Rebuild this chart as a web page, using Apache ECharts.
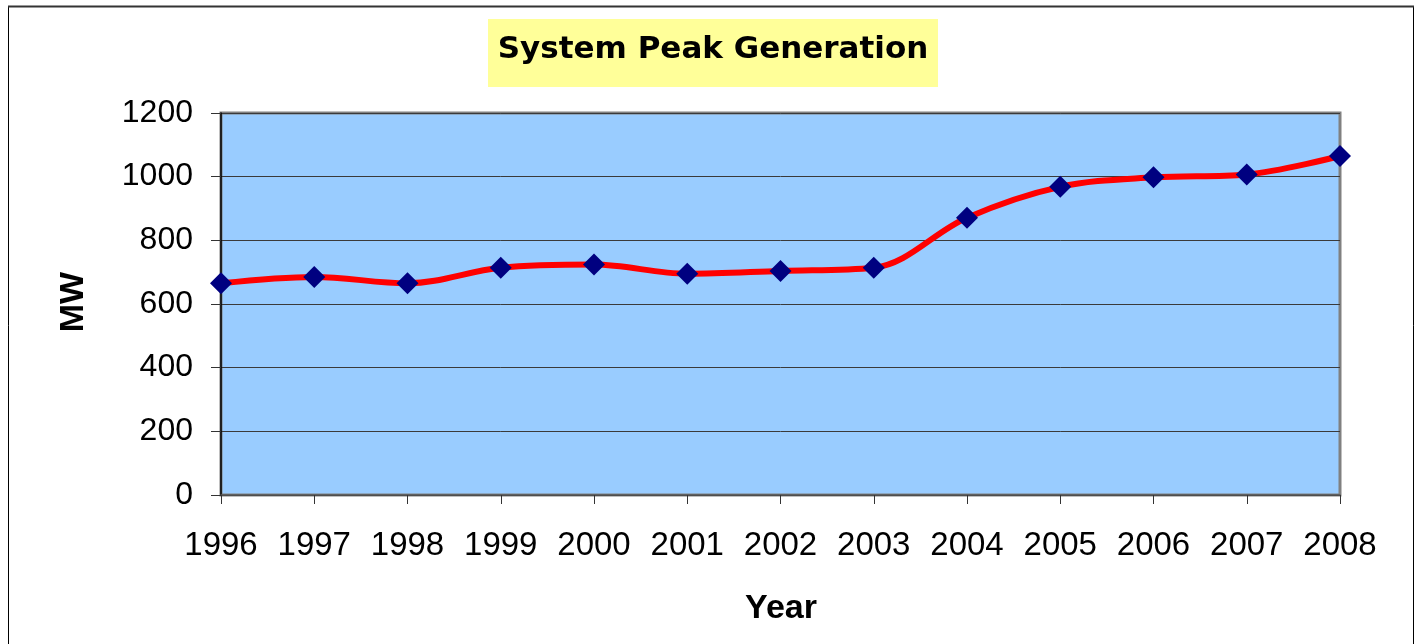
<!DOCTYPE html>
<html>
<head>
<meta charset="utf-8">
<script src="https://cdn.jsdelivr.net/npm/echarts@6/dist/echarts.min.js"></script>
<style>
html,body{margin:0;padding:0;background:#fff;}
#chart{width:1416px;height:644px;}
</style>
</head>
<body>
<div id="chart"></div>
<script>
const titleText = 'System Peak Generation';
const xAxisTitle = 'Year';
const yAxisTitle = 'MW';
const years = ['1996','1997','1998','1999','2000','2001','2002','2003','2004','2005','2006','2007','2008'];
const peakMW = [665, 685, 665, 714, 724, 695, 704, 714, 871, 968, 998, 1007, 1065];
const yMin = 0, yMax = 1200, yStep = 200;

const chart = echarts.init(document.getElementById('chart'), null, {renderer: 'canvas'});
chart.setOption({
  animation: false,
  backgroundColor: '#ffffff',
  grid: {
    left: 221, right: 76, top: 113, bottom: 149,
    show: true,
    backgroundColor: '#99CCFF',
    borderColor: '#808080',
    borderWidth: 3
  },
  xAxis: {
    type: 'category',
    data: years,
    boundaryGap: false,
    axisLine: {show: true, lineStyle: {color: '#555555', width: 1.5}},
    axisTick: {show: true, length: 9, alignWithLabel: true, interval: 0, lineStyle: {color: '#333333', width: 1}},
    axisLabel: {interval: 0, margin: 34, fontFamily: 'Liberation Sans', fontSize: 33, color: '#000000'},
    splitLine: {show: false}
  },
  yAxis: {
    type: 'value',
    min: yMin, max: yMax, interval: yStep,
    axisLine: {show: true, lineStyle: {color: '#000000', width: 1.5}},
    axisTick: {show: true, length: 10, lineStyle: {color: '#333333', width: 1}},
    axisLabel: {margin: 28, fontFamily: 'Liberation Sans', fontSize: 32, color: '#000000', formatter: function (v) { return String(v); }},
    splitLine: {show: true, lineStyle: {color: '#3a3a3a', width: 1}}
  },
  graphic: [
    {type: 'rect', shape: {x: 8.5, y: 6.5, width: 1405, height: 700}, style: {fill: 'none', stroke: '#000000', lineWidth: 1}, z: 0},
    {type: 'line', shape: {x1: 8, y1: 6.5, x2: 1414, y2: 6.5}, style: {stroke: '#333333', lineWidth: 2}, z: 0},
    {type: 'rect', shape: {x: 488, y: 19, width: 450, height: 68}, style: {fill: '#FFFF99'}, z: 1},
    {type: 'text', x: 713, y: 50, z: 2, style: {text: titleText, fontFamily: 'DejaVu Sans', fontWeight: 'bold', fontSize: 31, fill: '#000000', align: 'center', verticalAlign: 'middle'}},
    {type: 'text', x: 74, y: 302, rotation: Math.PI / 2, z: 2, style: {text: yAxisTitle, fontFamily: 'Liberation Sans', fontWeight: 'bold', fontSize: 34, fill: '#000000', align: 'center', verticalAlign: 'middle'}},
    {type: 'text', x: 781, y: 609, z: 2, style: {text: xAxisTitle, fontFamily: 'Liberation Sans', fontWeight: 'bold', fontSize: 34, fill: '#000000', align: 'center', verticalAlign: 'middle'}}
  ],
  series: [{
    type: 'line',
    data: peakMW,
    smooth: 0.35,
    symbol: 'diamond',
    symbolSize: 22,
    showAllSymbol: true,
    lineStyle: {color: '#FF0000', width: 6},
    itemStyle: {color: '#000080', borderWidth: 0},
    z: 5
  }]
});
</script>
</body>
</html>
